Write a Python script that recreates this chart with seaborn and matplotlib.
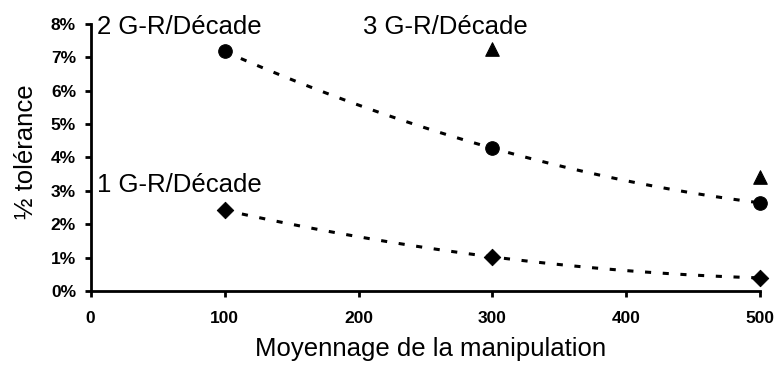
import numpy as np
import pandas as pd
import matplotlib
matplotlib.use("Agg")
import matplotlib.pyplot as plt
from matplotlib.ticker import PercentFormatter
import seaborn as sns

# values (percent)
moyennage = [100, 300, 500]
gr1 = [2.42, 1.02, 0.39]          # 1 G-R/Décade (diamonds)
gr2 = [7.18, 4.28, 2.64]          # 2 G-R/Décade (circles)
moyennage_gr3 = [300, 500]
gr3 = [7.24, 3.42]                # 3 G-R/Décade (triangles)
x_ticks = [0, 100, 200, 300, 400, 500]
y_ticks = [0, 1, 2, 3, 4, 5, 6, 7, 8]

sns.set_theme(style="white")
plt.rcParams['font.family'] = ['Liberation Sans', 'DejaVu Sans']

df1 = pd.DataFrame({'x': moyennage, 'y': gr1})
df2 = pd.DataFrame({'x': moyennage, 'y': gr2})
df3 = pd.DataFrame({'x': moyennage_gr3, 'y': gr3})

fig = plt.figure(figsize=(7.75, 3.65), dpi=100)
ax = fig.add_axes([0.117, 0.203, 0.864, 0.731])

line_kws = dict(color='black', lw=2.2, linestyle=(0, (2, 3.8)))
# trend lines (2nd order fit drawn by seaborn)
sns.regplot(data=df2, x='x', y='y', order=2, ci=None, scatter=False, ax=ax, line_kws=line_kws)
sns.regplot(data=df1, x='x', y='y', order=2, ci=None, scatter=False, ax=ax, line_kws=line_kws)

sns.scatterplot(data=df2, x='x', y='y', marker='o', s=95, color='black', edgecolor='black', ax=ax, clip_on=False, zorder=5)
sns.scatterplot(data=df1, x='x', y='y', marker='D', s=70, color='black', edgecolor='black', ax=ax, clip_on=False, zorder=5)
sns.scatterplot(data=df3, x='x', y='y', marker='^', s=95, color='black', edgecolor='black', ax=ax, clip_on=False, zorder=5)

ax.set_xlim(0, 500)
ax.set_ylim(0, 8)
ax.set_xticks(x_ticks)
ax.set_yticks(y_ticks)
ax.yaxis.set_major_formatter(PercentFormatter(100, decimals=0))

for side in ['top', 'right']:
    ax.spines[side].set_visible(False)
for side in ['left', 'bottom']:
    ax.spines[side].set_color('black')
    ax.spines[side].set_linewidth(2.0)

ax.tick_params(axis='both', which='major', direction='out', length=4.5, width=2.0,
               color='black', labelcolor='black', labelsize=12.5)
ax.tick_params(axis='y', pad=6)
ax.tick_params(axis='x', pad=10)
ax.tick_params(left=True, bottom=True)
for lbl in ax.get_xticklabels() + ax.get_yticklabels():
    lbl.set_fontweight('bold')

ax.set_xlabel('Moyennage de la manipulation', fontsize=18.5, color='black')
ax.set_ylabel('½ tolérance', fontsize=18.5, color='black')
ax.xaxis.set_label_coords(0.507, -0.172)
ax.yaxis.set_label_coords(-0.078, 0.52)

ax.text(5, 7.91, '2 G-R/Décade', fontsize=18.5, va='center', ha='left', color='black')
ax.text(203, 7.91, '3 G-R/Décade', fontsize=18.5, va='center', ha='left', color='black')
ax.text(5, 3.18, '1 G-R/Décade', fontsize=18.5, va='center', ha='left', color='black')

fig.savefig('out.png', dpi=100, facecolor='white')
